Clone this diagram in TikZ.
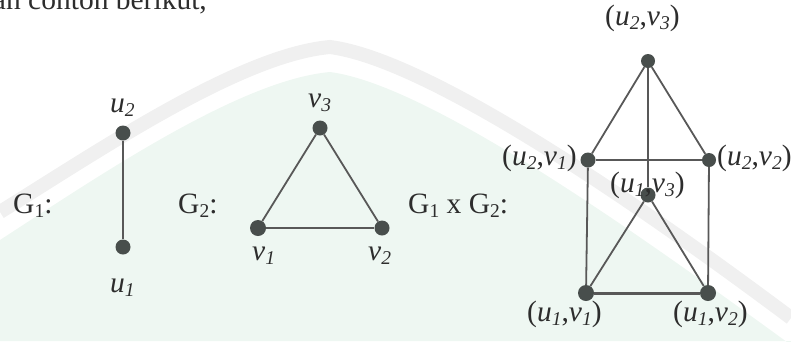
\documentclass[tikz,border=0pt]{standalone}
\usepackage{fontspec}
\setmainfont{Liberation Serif}
\definecolor{dotcol}{RGB}{72,78,76}
\definecolor{linecol}{RGB}{88,88,88}
\definecolor{txtcol}{RGB}{45,45,45}
\definecolor{wmgreen}{RGB}{238,247,242}
\definecolor{wmgray}{RGB}{240,240,240}
\newcommand\lowsub[1]{\raisebox{-4.8pt}{\fontsize{19.5}{19.5}\selectfont #1}}
\newcommand\vlab[2]{\textit{#1}\lowsub{\textit{#2}}}
\newcommand\plab[4]{(\vlab{#1}{#2},\vlab{#3}{#4})}
\newcommand\glab[1]{G\lowsub{#1}}
\begin{document}
\begin{tikzpicture}[x=1pt,y=-1pt,
  vtx/.style={circle,fill=dotcol,inner sep=0pt,minimum size=15pt},
  edge/.style={draw=linecol,line width=1.8pt},
  lbl/.style={inner sep=0pt,font=\fontsize{29.5}{31}\selectfont,text=txtcol,anchor=base west}]
\useasboundingbox (0,0) rectangle (791,341);
\clip (0,0) rectangle (791,341);
% watermark background
\fill[wmgreen] (0,240) .. controls (100,175) and (240,80) .. (330,72)
  .. controls (430,85) and (640,235) .. (791,345) -- (791,341) -- (0,341) -- cycle;
\draw[wmgray,line width=14pt] (0,212) .. controls (100,150) and (240,55) .. (330,47)
  .. controls (430,60) and (640,205) .. (791,318);
% top text
\node[lbl,anchor=base east] (intro) at (207,9) {an contoh berikut,};
% G1
\node[lbl] (g1) at (13,213) {\glab{1}:};
\node[vtx] (u2) at (123,133) {};
\node[vtx] (u1) at (123,247) {};
\node[lbl] (lu2) at (110,112) {\vlab{u}{2}};
\node[lbl] (lu1) at (110,292) {\vlab{u}{1}};
\draw[edge] (u2) -- (u1);
% G2
\node[lbl] (g2) at (178,213) {\glab{2}:};
\node[vtx] (v3) at (320,128) {};
\node[vtx,minimum size=16pt] (v1) at (258,228) {};
\node[vtx] (v2) at (382,228) {};
\node[lbl] (lv3) at (308,107) {\vlab{v}{3}};
\node[lbl] (lv1) at (252,260) {\vlab{v}{1}};
\node[lbl] (lv2) at (368,260) {\vlab{v}{2}};
\draw[edge] (v3) -- (v1);
\draw[edge] (v3) -- (v2);
\draw[edge,line width=2.3pt] (v1) -- (v2);
% G1 x G2
\node[lbl] (g12) at (408,213) {\glab{1} x \glab{2}:};
\node[vtx,minimum size=14pt] (a23) at (648,61) {};
\node[vtx] (a21) at (588,160) {};
\node[vtx,minimum size=14pt] (a22) at (709,160) {};
\node[vtx] (a13) at (648,195) {};
\node[vtx,minimum size=16pt] (a11) at (586,293) {};
\node[vtx,minimum size=16pt] (a12) at (708,293) {};
\node[lbl] (la23) at (605,25) {\plab{u}{2}{v}{3}};
\node[lbl] (la21) at (502,165) {\plab{u}{2}{v}{1}};
\node[lbl] (la22) at (717,165) {\plab{u}{2}{v}{2}};
\node[lbl] (la13) at (610,192) {\plab{u}{1}{v}{3}};
\node[lbl] (la11) at (527,321) {\plab{u}{1}{v}{1}};
\node[lbl] (la12) at (673,321) {\plab{u}{1}{v}{2}};
\draw[edge] (a23) -- (a21);
\draw[edge] (a23) -- (a22);
\draw[edge] (a23) -- (a13);
\draw[edge] (a21) -- (a22);
\draw[edge] (a21) -- (a11);
\draw[edge] (a22) -- (a12);
\draw[edge] (a13) -- (a11);
\draw[edge] (a13) -- (a12);
\draw[edge,line width=3pt] (a11) -- (a12);
\end{tikzpicture}
\end{document}
